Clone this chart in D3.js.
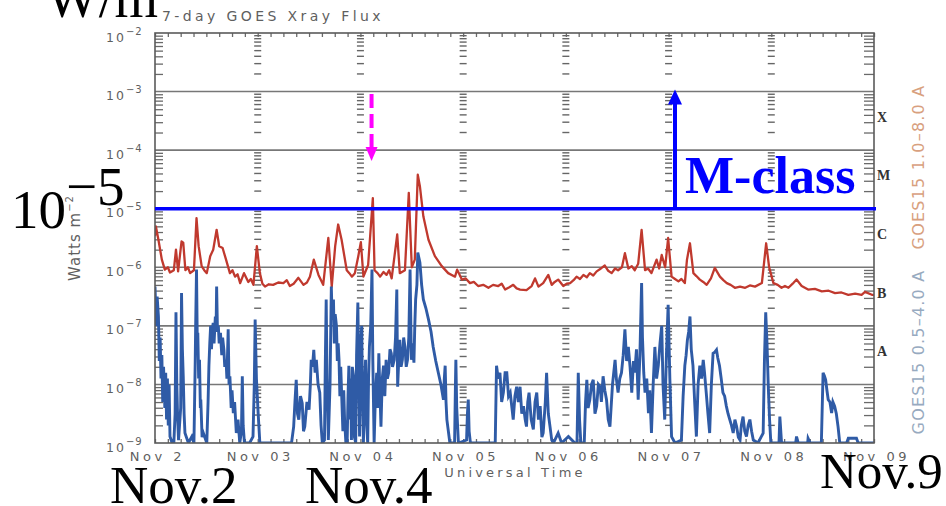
<!DOCTYPE html>
<html><head><meta charset="utf-8">
<script src="https://cdn.jsdelivr.net/npm/d3@7"></script>
<style>
html,body{margin:0;padding:0;background:#fff;}
svg{display:block;}
.pf{font-family:"DejaVu Sans",sans-serif;fill:#5f5f5f;}
.big{font-family:"Liberation Serif","Times New Roman",serif;}
.tk line{stroke:#6a6a6a;stroke-width:1.3;}
.tk path{display:none;}
</style></head><body>
<svg id="chart" width="946" height="506"></svg>
<script>
// GOES-15 X-ray flux, 2–9 November. Each point: [hours after Nov 2 00:00 UT, log10(flux in W m^-2)].
// Long channel 1.0–8.0 Å
const longFlux = [[0,-5.47],[0.2,-5.30],[0.8,-5.53],[1.6,-5.87],[2.3,-6.04],[3.0,-6.0],[3.5,-6.09],[4.4,-6.05],[4.9,-5.70],[5.4,-6.07],[6.2,-5.56],[6.6,-5.58],[7.1,-6.05],[7.7,-6.0],[8.2,-6.10],[9.1,-6.05],[9.7,-5.16],[10.2,-5.64],[10.9,-5.98],[11.5,-6.05],[12.1,-6.10],[12.9,-5.81],[13.6,-5.70],[14.4,-5.36],[15.0,-5.64],[15.8,-5.67],[16.6,-5.87],[17.5,-6.10],[18.1,-6.05],[18.7,-6.16],[19.3,-6.12],[19.9,-6.27],[20.8,-6.10],[21.8,-6.25],[22.4,-6.2],[23.0,-6.30],[23.8,-5.64],[24.5,-6.10],[25.1,-6.28],[25.7,-6.33],[26.6,-6.29],[27.6,-6.30],[28.8,-6.26],[30.0,-6.27],[30.8,-6.22],[31.5,-6.32],[32.4,-6.28],[33.5,-6.18],[34.7,-6.30],[35.5,-6.26],[36.2,-6.16],[37.1,-5.87],[38.2,-6.13],[39.3,-6.30],[40.5,-5.50],[41.3,-6.33],[42.1,-5.64],[42.8,-5.27],[43.6,-5.53],[44.8,-6.05],[45.4,-6.1],[46.0,-6.16],[46.7,-6.10],[47.5,-5.81],[48.1,-5.57],[48.7,-6.16],[49.3,-6.05],[49.8,-5.96],[50.9,-4.82],[51.3,-6.05],[52.0,-6.1],[52.6,-6.16],[53.4,-6.08],[54.1,-6.13],[54.7,-6.05],[55.3,-6.19],[56.6,-5.44],[57.2,-6.10],[58.4,-6.05],[59.3,-4.73],[60.0,-6.00],[60.7,-5.87],[61.4,-4.42],[61.9,-4.62],[62.7,-5.13],[63.9,-5.53],[65.4,-5.81],[67.0,-5.98],[68.5,-6.10],[70.1,-6.16],[70.6,-6.04],[71.7,-6.21],[72.6,-6.19],[73.6,-6.27],[74.5,-6.25],[75.5,-6.32],[76.7,-6.3],[77.9,-6.35],[79.0,-6.3],[80.2,-6.32],[81.0,-6.28],[81.8,-6.38],[82.8,-6.34],[83.7,-6.30],[84.5,-6.36],[85.3,-6.38],[86.8,-6.39],[88.0,-6.32],[88.8,-6.19],[89.6,-6.33],[90.7,-6.27],[91.9,-6.13],[92.7,-6.30],[93.4,-6.25],[94.2,-6.21],[95.4,-6.32],[96.2,-6.28],[97.0,-6.27],[97.8,-6.22],[98.5,-6.16],[99.3,-6.2],[100.1,-6.13],[100.9,-6.17],[101.6,-6.10],[102.4,-6.14],[103.2,-6.07],[104.2,-6.02],[105.1,-5.97],[105.9,-6.06],[106.7,-6.10],[107.5,-6.02],[108.2,-6.05],[109.1,-6.0],[109.8,-5.76],[110.6,-6.02],[111.4,-5.98],[112.1,-6.05],[112.9,-5.94],[113.7,-5.36],[114.5,-6.05],[115.2,-6.02],[116.0,-6.10],[117.2,-5.87],[117.8,-6.02],[118.4,-5.79],[119.2,-6.00],[119.9,-5.50],[120.7,-6.16],[121.5,-6.2],[122.3,-6.24],[123.0,-6.2],[123.8,-6.27],[124.3,-5.87],[125.0,-5.59],[125.8,-6.10],[126.5,-6.15],[127.3,-6.21],[128.1,-6.25],[128.9,-6.30],[129.9,-6.19],[130.8,-6.01],[132.0,-6.16],[132.8,-6.22],[133.6,-6.27],[134.5,-6.3],[135.5,-6.35],[136.7,-6.33],[137.9,-6.35],[139.0,-6.31],[140.2,-6.33],[141.8,-6.27],[142.8,-5.59],[143.5,-6.00],[144.5,-6.27],[145.5,-6.3],[146.4,-6.35],[147.2,-6.32],[148.0,-6.35],[149.0,-6.28],[149.9,-6.21],[151.1,-6.32],[152.6,-6.38],[154.2,-6.37],[155.8,-6.41],[157.4,-6.4],[158.9,-6.44],[160.4,-6.43],[162.0,-6.47],[163.6,-6.45],[165.1,-6.47],[165.9,-6.42],[167.5,-6.47],[168,-6.47]];
// Short channel 0.5–4.0 Å (readings at the 1e-9 floor sit on the bottom edge)
const shortFlux = [[0,-6.33],[0.3,-7.0],[0.5,-6.5],[0.8,-6.84],[1.0,-7.6],[1.2,-7.2],[1.4,-7.9],[1.6,-7.5],[1.8,-8.3],[2.0,-7.7],[2.3,-8.4],[2.5,-7.8],[2.7,-8.6],[2.9,-7.9],[3.1,-8.7],[3.3,-8.0],[3.5,-8.89],[4.0,-9],[4.4,-9],[4.7,-8.5],[4.9,-6.77],[5.1,-8.0],[5.3,-8.6],[5.5,-8.95],[6.0,-8.4],[6.2,-6.44],[6.4,-7.4],[6.6,-7.86],[6.8,-8.5],[7.0,-8.83],[7.8,-9],[8.6,-8.89],[9.1,-9],[9.4,-7.6],[9.5,-7.0],[9.7,-6.04],[9.9,-7.4],[10.0,-7.12],[10.2,-7.9],[10.4,-7.58],[10.6,-8.4],[10.7,-8.26],[11.0,-8.9],[11.3,-8.83],[12.1,-9],[12.4,-8.3],[12.6,-7.68],[12.8,-7.3],[13.0,-7.0],[13.2,-7.4],[13.4,-7.05],[13.6,-6.95],[13.8,-7.3],[14.1,-6.84],[14.3,-6.9],[14.4,-6.33],[14.6,-7.1],[14.8,-7.0],[15.0,-7.3],[15.3,-7.12],[15.6,-7.5],[15.8,-7.2],[16.1,-7.41],[16.3,-7.7],[16.6,-7.58],[16.8,-7.9],[17.1,-7.06],[17.3,-8.0],[17.5,-7.86],[17.8,-8.4],[18.0,-8.1],[18.3,-8.49],[18.6,-8.3],[19.0,-8.83],[19.4,-8.6],[19.8,-9],[20.2,-8.8],[20.4,-7.86],[20.6,-8.7],[20.9,-9],[22.1,-9],[22.9,-8.89],[23.2,-8.0],[23.4,-6.89],[23.7,-7.9],[24.1,-8.49],[24.5,-9],[31.9,-9],[32.4,-8.72],[32.7,-8.3],[33.0,-7.92],[33.3,-8.5],[33.6,-8.6],[34.0,-8.2],[34.4,-8.32],[34.7,-8.8],[35.0,-8.72],[35.5,-8.3],[36.0,-8.43],[36.3,-8.0],[36.5,-7.58],[36.8,-7.7],[37.1,-7.41],[37.4,-7.8],[37.7,-7.58],[38.1,-8.0],[38.5,-8.14],[38.8,-8.7],[39.1,-9],[39.6,-8.95],[39.8,-7.6],[40.0,-6.55],[40.2,-7.9],[40.5,-8.95],[40.9,-8.0],[41.2,-6.33],[41.4,-6.9],[41.7,-6.55],[41.9,-7.3],[42.1,-6.8],[42.4,-7.0],[42.6,-7.6],[42.8,-7.3],[43.0,-7.58],[43.2,-8.2],[43.4,-7.7],[43.6,-8.14],[43.9,-8.8],[44.1,-8.1],[44.3,-8.6],[44.6,-9],[44.9,-9],[45.1,-8.2],[45.3,-7.68],[45.5,-8.6],[45.7,-7.9],[45.9,-8.95],[46.1,-7.7],[46.4,-7.86],[46.6,-8.9],[46.9,-9],[47.1,-7.5],[47.4,-6.6],[47.6,-7.8],[47.8,-8.89],[48.0,-7.4],[48.3,-7.0],[48.5,-8.3],[48.7,-9],[49.0,-8.0],[49.2,-7.58],[49.4,-8.6],[49.7,-9],[49.9,-7.9],[50.1,-7.36],[50.4,-7.0],[50.7,-6.04],[50.9,-7.6],[51.2,-9],[51.5,-8.2],[51.8,-7.8],[52.0,-8.4],[52.3,-7.47],[52.5,-8.0],[52.8,-8.72],[53.1,-7.9],[53.4,-7.68],[53.7,-8.2],[54.0,-7.58],[54.3,-7.9],[54.6,-7.8],[54.9,-7.4],[55.2,-7.47],[55.5,-7.7],[55.9,-7.58],[56.2,-7.2],[56.5,-6.38],[56.7,-8.04],[57.0,-7.5],[57.2,-7.24],[57.5,-7.7],[57.8,-7.58],[58.1,-7.2],[58.4,-7.36],[58.7,-7.7],[59.0,-7.58],[59.3,-7.2],[59.6,-6.04],[59.9,-7.58],[60.2,-7.3],[60.5,-7.63],[60.7,-7.0],[60.9,-6.55],[61.2,-6.3],[61.4,-5.75],[61.7,-5.85],[61.9,-5.92],[62.3,-6.3],[62.7,-6.55],[63.3,-6.7],[63.9,-6.89],[64.5,-7.1],[65.0,-7.36],[65.6,-7.6],[66.2,-7.8],[66.8,-8.0],[67.4,-8.26],[67.6,-7.9],[67.8,-7.68],[68.0,-8.3],[68.2,-8.6],[68.9,-9],[70.0,-9],[70.2,-8.0],[70.3,-7.58],[70.5,-8.4],[70.9,-9],[72.8,-8.95],[73.0,-8.5],[73.2,-8.26],[73.4,-8.8],[73.7,-9],[79.5,-9],[79.8,-7.68],[80.2,-7.9],[80.6,-7.8],[81.0,-8.3],[81.4,-8.14],[81.8,-7.8],[82.2,-7.8],[82.6,-8.2],[83.0,-8.14],[83.4,-8.4],[83.7,-8.6],[84.1,-8.2],[84.5,-8.04],[84.9,-8.3],[85.3,-8.04],[85.7,-8.5],[86.1,-8.37],[86.5,-8.6],[86.8,-8.72],[87.1,-8.3],[87.4,-8.14],[87.9,-8.6],[88.4,-8.77],[88.8,-8.3],[89.2,-8.14],[89.6,-8.6],[90.0,-8.37],[90.4,-8.9],[90.7,-8.83],[91.2,-8.3],[91.5,-7.8],[91.9,-8.5],[92.3,-8.72],[92.7,-8.95],[93.1,-9],[94.2,-8.83],[95.0,-9],[96.6,-8.89],[98.1,-9],[98.6,-9],[98.9,-7.8],[99.2,-8.6],[99.5,-9],[100.3,-9],[100.6,-8.3],[100.9,-7.92],[101.2,-8.4],[101.6,-8.26],[102.0,-8.0],[102.4,-7.92],[102.8,-8.5],[103.2,-8.37],[103.6,-8.0],[104.0,-8.04],[104.3,-8.3],[104.7,-7.86],[105.1,-8.1],[105.5,-8.26],[105.9,-8.6],[106.3,-8.72],[106.9,-8.0],[107.5,-7.58],[107.8,-7.9],[108.2,-8.14],[108.6,-7.9],[109.0,-7.8],[109.4,-7.5],[109.8,-7.06],[110.2,-7.6],[110.6,-7.36],[111.0,-7.7],[111.4,-8.14],[111.8,-7.6],[112.1,-7.8],[112.5,-7.4],[112.9,-8.26],[113.3,-7.5],[113.7,-6.27],[113.9,-7.2],[114.2,-7.8],[114.5,-8.14],[114.9,-7.9],[115.3,-8.49],[115.6,-8.1],[116.0,-8.83],[116.4,-8.0],[116.8,-7.36],[117.2,-7.9],[117.6,-7.68],[118.0,-7.3],[118.4,-7.0],[118.7,-8.0],[119.1,-8.6],[119.5,-7.5],[119.9,-6.64],[120.3,-7.9],[120.7,-8.89],[121.5,-9],[123.0,-8.95],[123.4,-8.2],[123.8,-7.68],[124.1,-7.5],[124.4,-7.24],[124.7,-7.1],[125.0,-6.84],[125.3,-7.4],[125.7,-7.68],[126.1,-8.3],[126.5,-8.89],[126.9,-8.0],[127.3,-7.68],[127.7,-7.9],[128.1,-7.58],[128.4,-7.8],[128.8,-8.14],[129.2,-8.5],[129.6,-8.83],[130.0,-8.0],[130.4,-7.47],[130.8,-7.45],[131.2,-7.41],[131.5,-7.55],[131.9,-7.68],[132.3,-7.9],[132.7,-8.14],[133.1,-8.2],[133.5,-8.37],[133.9,-8.5],[134.3,-8.6],[134.7,-8.7],[135.1,-8.83],[135.5,-8.6],[135.9,-8.72],[136.3,-8.9],[136.7,-8.95],[137.0,-8.7],[137.4,-8.55],[137.8,-8.8],[138.2,-8.89],[138.6,-8.7],[139.0,-8.6],[139.4,-8.8],[139.8,-8.95],[140.9,-9],[142.1,-8.83],[142.4,-7.6],[142.7,-6.77],[143.0,-7.3],[143.3,-8.04],[143.6,-8.6],[143.9,-9],[145.8,-9],[146.0,-8.55],[146.4,-9],[149.7,-9],[149.9,-8.89],[150.3,-9],[152.5,-9],[152.6,-8.92],[153.1,-9],[155.7,-9],[156.1,-7.8],[156.4,-7.85],[156.7,-7.92],[157.0,-8.1],[157.3,-8.26],[157.7,-8.3],[158.1,-8.49],[158.4,-8.3],[158.8,-8.37],[159.2,-8.5],[159.6,-8.72],[160.0,-9],[161.6,-9],[162.0,-8.92],[163.9,-8.92],[164.3,-9],[168,-9]];

const dayHours = [0,24,48,72,96,120,144,168];
const dayLabels = ["Nov 2","Nov 03","Nov 04","Nov 05","Nov 06","Nov 07","Nov 08","Nov 09"];
const decadeExps = [-2,-3,-4,-5,-6,-7,-8,-9];
const classLetters = ["X","M","C","B","A"];
const classFloors = [1e-4,1e-5,1e-6,1e-7,1e-8];
const mClassThreshold = 1e-5;
const flareHour = 50.6;      // flare marked with the dashed arrow
const arrowHour = 121.5;     // position of the "M-class" arrow

const svg = d3.select("#chart");
const L = 155, R = 874, T = 33, B = 443;
const x = d3.scaleLinear().domain([0,168]).range([L,R]);
const y = d3.scaleLog().domain([1e-9,1e-2]).range([B,T]);

const isDecade = v => Math.abs(Math.log10(v) - Math.round(Math.log10(v))) < 1e-6;
const allTicks = y.ticks();
const minor = allTicks.filter(v => !isDecade(v));
const major = allTicks.filter(isDecade);

svg.append("defs").append("clipPath").attr("id","plotclip")
  .append("rect").attr("x",L).attr("y",T-2).attr("width",R-L).attr("height",B-T+2);

// decade grid lines
svg.append("g").selectAll("line").data(major.filter(v => v > 1e-9 && v < 1e-2)).join("line")
  .attr("x1",L).attr("x2",R).attr("y1",d=>y(d)).attr("y2",d=>y(d))
  .attr("stroke","#777").attr("stroke-width",1.6);

// day separators drawn as columns of log minor ticks
const cols = svg.append("g");
dayHours.slice(1,-1).forEach(h => {
  cols.append("g").selectAll("line").data(minor).join("line")
    .attr("x1",x(h)-3.5).attr("x2",x(h)+3.5).attr("y1",d=>y(d)).attr("y2",d=>y(d))
    .attr("stroke","#666").attr("stroke-width",1.4);
});

// left / right log ticks (inside the frame)
svg.append("g").attr("class","tk").attr("transform",`translate(${L},0)`)
  .call(d3.axisRight(y).tickValues(minor).tickSize(8).tickFormat(""));
svg.append("g").attr("class","tk").attr("transform",`translate(${R},0)`)
  .call(d3.axisLeft(y).tickValues(minor).tickSize(10).tickFormat(""));
// top / bottom 3-hour ticks
svg.append("g").attr("class","tk").attr("transform",`translate(0,${T})`)
  .call(d3.axisBottom(x).tickValues(d3.range(0,169,3)).tickSize(4).tickFormat(""));
svg.append("g").attr("class","tk").attr("transform",`translate(0,${B})`)
  .call(d3.axisTop(x).tickValues(d3.range(0,169,3)).tickSize(4).tickFormat(""));

// flux series
const line = d3.line().x(d=>x(d[0])).y(d=>y(Math.pow(10,d[1])));
const plot = svg.append("g").attr("clip-path","url(#plotclip)");
plot.append("path").datum(longFlux).attr("d",line)
  .attr("fill","none").attr("stroke","#c0392e").attr("stroke-width",2.3).attr("stroke-linejoin","round");
plot.append("path").datum(shortFlux).attr("d",line)
  .attr("fill","none").attr("stroke","#2f5ba6").attr("stroke-width",2.9).attr("stroke-linejoin","miter");

// frame
svg.append("rect").attr("x",L).attr("y",T).attr("width",R-L).attr("height",B-T)
  .attr("fill","none").attr("stroke","#5a5a5a").attr("stroke-width",1.6);

// y tick labels 10^n
const yl = svg.append("g").selectAll("text").data(decadeExps).join("text")
  .attr("class","pf").attr("x",106).attr("y",e=>y(Math.pow(10,e))+8.5)
  .attr("font-size",12.5).attr("letter-spacing",2);
yl.append("tspan").text("10");
yl.append("tspan").attr("dy",-7).attr("font-size",10).attr("letter-spacing",1)
  .text(e=>"\u2212"+Math.abs(e));

// y axis title
const yt = svg.append("text").attr("class","pf").attr("font-size",15).attr("letter-spacing",1)
  .attr("text-anchor","middle").attr("transform","translate(80,238) rotate(-90)");
yt.append("tspan").text("Watts m");
yt.append("tspan").attr("dy",-7).attr("font-size",10).text("\u22122");

// title
svg.append("text").attr("class","pf").attr("x",162).attr("y",21).attr("font-size",14)
  .attr("letter-spacing",3.4).text("7-day GOES Xray Flux");

// x labels
svg.append("g").attr("class","tk").attr("transform",`translate(0,${B})`)
  .call(d3.axisBottom(x).tickValues(dayHours).tickSize(0).tickPadding(9)
    .tickFormat((d,i)=>dayLabels[i]))
  .call(g => g.selectAll("text").attr("font-size",13).attr("letter-spacing",3.5)
    .attr("font-family","DejaVu Sans").attr("fill","#5f5f5f").attr("dx","0.15em"));
svg.append("text").attr("class","pf").attr("x",515).attr("y",477).attr("text-anchor","middle")
  .attr("font-size",13).attr("letter-spacing",3.2).text("Universal Time");

// flare class letters
svg.append("g").selectAll("text").data(classLetters).join("text")
  .attr("x",R+3).attr("y",(d,i)=>y(classFloors[i]*Math.sqrt(10))+1)
  .attr("class","big").attr("font-weight","bold").attr("font-size",14).attr("fill","#333")
  .text(d=>d);

// channel labels
svg.append("text").attr("class","pf").attr("font-size",16).attr("letter-spacing",1.2)
  .attr("text-anchor","middle").style("fill","#d8a07e")
  .attr("transform","translate(924,167) rotate(-90)").text("GOES15 1.0\u20138.0 A");
svg.append("text").attr("class","pf").attr("font-size",16).attr("letter-spacing",1.2)
  .attr("text-anchor","middle").style("fill","#97aac0")
  .attr("transform","translate(924,352) rotate(-90)").text("GOES15 0.5\u20134.0 A");

// M-class threshold and arrow
const blue = "#0000ff";
svg.append("line").attr("x1",L).attr("x2",R+2).attr("y1",y(mClassThreshold)).attr("y2",y(mClassThreshold))
  .attr("stroke",blue).attr("stroke-width",3.5);
const ax = x(arrowHour), tip = y(1e-3) - 2;
svg.append("line").attr("x1",ax).attr("x2",ax).attr("y1",y(mClassThreshold)).attr("y2",tip+12)
  .attr("stroke",blue).attr("stroke-width",4);
svg.append("path").attr("d",`M${ax-7},${tip+15}L${ax+7},${tip+15}L${ax},${tip}Z`).attr("fill",blue);
svg.append("text").attr("class","big").attr("x",685).attr("y",193).attr("font-size",52)
  .attr("font-weight","bold").attr("fill",blue).text("M-class");

// dashed arrow marking the flare
const fx = x(flareHour);
svg.append("line").attr("x1",fx).attr("x2",fx).attr("y1",94).attr("y2",148)
  .attr("stroke","#ff00ff").attr("stroke-width",4).attr("stroke-dasharray","14,6");
svg.append("path").attr("d",`M${fx-6},${147}L${fx+6},${147}L${fx},${161}Z`).attr("fill","#ff00ff");

// large annotations
const big = svg.append("g").attr("class","big").attr("fill","#000");
big.append("text").attr("x",46).attr("y",17).attr("font-size",56).text("W/m");
const ten = big.append("text").attr("x",11).attr("y",228).attr("font-size",55);
ten.append("tspan").text("10");
ten.append("tspan").attr("dy",-23).text("\u22125");
big.append("text").attr("x",110).attr("y",503).attr("font-size",53).text("Nov.2");
big.append("text").attr("x",305).attr("y",503).attr("font-size",53).text("Nov.4");
big.append("text").attr("x",820).attr("y",488).attr("font-size",51).text("Nov.9");
</script>
</body></html>
